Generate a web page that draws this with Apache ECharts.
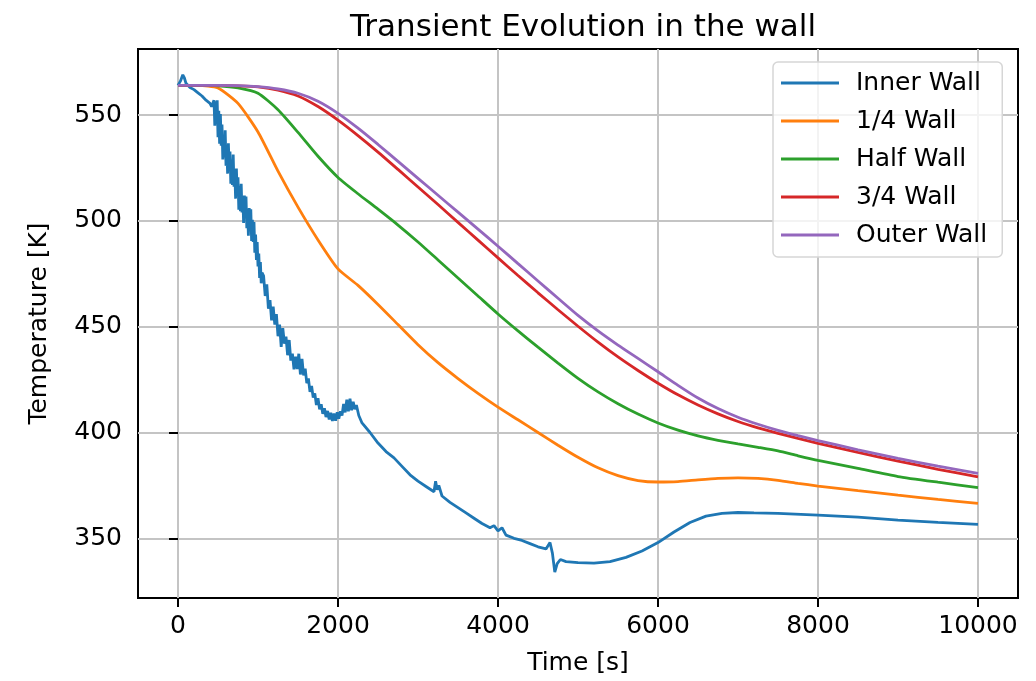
<!DOCTYPE html>
<html>
<head>
<meta charset="utf-8">
<script src="https://cdn.jsdelivr.net/npm/echarts@6/dist/echarts.min.js"></script>
<style>
  html, body { margin: 0; padding: 0; background: #fff; }
  #chart { width: 1036px; height: 681px; }
</style>
</head>
<body>
<div id="chart"></div>
<script>
// 刻度
const xTicks = [0, 2000, 4000, 6000, 8000, 10000];
const yTicks = [350, 400, 450, 500, 550];

// Inner Wall (noisy)
const innerT = [0, 30, 60, 80, 100, 150, 200, 250, 300, 350, 400, 420, 440,
  450, 460, 470, 480, 490, 500, 510, 520, 530, 540, 550, 560, 570, 580, 590, 600,
  610, 620, 630, 640, 650, 660, 670, 680, 690, 700, 710, 720, 730, 740, 750, 760,
  770, 780, 790, 800, 810, 820, 830, 840, 850, 860, 870, 880, 890, 900, 910, 920,
  930, 940, 950, 960, 970, 980, 990, 1000, 1010, 1020, 1030, 1040, 1050,
  1070, 1090, 1110, 1130, 1150, 1170, 1190, 1210, 1230, 1250, 1270, 1290, 1310, 1330,
  1350, 1370, 1390, 1410, 1430, 1450, 1470, 1490, 1510, 1530, 1550, 1570, 1590,
  1610, 1630, 1650, 1670, 1690, 1710, 1730, 1750, 1770, 1790, 1810, 1830, 1850, 1870,
  1890, 1910, 1930, 1950, 1970, 1990, 2010, 2030, 2050, 2070, 2090, 2110, 2130, 2150,
  2170, 2190, 2210, 2230, 2260, 2300, 2400, 2500, 2600, 2700, 2800, 2900, 3000, 3100, 3200,
  3220, 3240, 3260, 3300, 3400, 3500, 3600, 3700, 3800, 3900, 3950, 4000, 4050, 4100, 4200,
  4300, 4400, 4500, 4600, 4650, 4680, 4710, 4740, 4780, 4850, 5000, 5200, 5400, 5600, 5800,
  6000, 6200, 6400, 6600, 6800, 7000, 7200, 7500, 8000, 8500, 9000, 9500, 10000];
const innerV = [564, 566, 569, 567.5, 565, 563, 562, 560.5, 559, 557, 555.5, 554, 556,
  557, 545, 556.5, 547, 557, 539.5, 552, 536.5, 550.5, 535.5, 545.5, 529, 540.5, 530, 542.8, 526,
  535, 522.3, 536.6, 524.4, 532.7, 517.5, 529, 517, 531.3, 516.1, 523.3, 510.5, 524.7, 512.4, 520.6, 505.3,
  516.6, 504.5, 517.5, 504, 511.5, 499, 512, 501.5, 511.5, 496.5, 505.5, 493, 506, 495.5, 505.5, 490.5,
  500.5, 490, 499.5, 485, 493.5, 481.5, 490, 478.5, 484.5, 473, 480.5, 470.5, 475.5,
  474, 464.5, 470, 458.5, 462.5, 453, 459.5, 451, 456, 445.5, 451, 440.5, 449.3, 442,
  445.3, 436.5, 443.7, 434, 437.2, 429.8, 435.8, 430, 437.2, 427.4, 434.8, 427, 430.2,
  423.3, 425.5, 419.2, 422, 416.5, 418.5, 413, 416.2, 411, 413.3, 408.8, 411.5, 407.3, 410.2,
  406.2, 409.3, 405.5, 408.9, 405.6, 409.5, 406.5, 410, 408, 413.5, 409.5, 415.5, 410, 416,
  410.5, 414.5, 411, 413, 408, 404.5, 400, 395, 391, 388, 384, 380, 377, 374.5, 372,
  377, 373, 375, 370, 367, 364.5, 362, 359.5, 357, 355, 356, 353.5, 355, 351.5, 350,
  349, 347.5, 346, 345, 348, 343, 334, 338, 340, 339, 338.5, 338.3, 339, 341, 344,
  348, 353, 357.5, 360.5, 361.8, 362.2, 362, 361.8, 361, 360, 358.6, 357.5, 356.6];

// 时间轴 (smooth curves)
const smoothT = [0, 250, 500, 750, 1000, 1250, 1500, 1750, 2000, 2250, 2500, 2750, 3000, 3250, 3500, 3750,
  4000, 4250, 4500, 4750, 5000, 5250, 5500, 5750, 6000, 6250, 6500, 6750, 7000, 7250, 7500, 7750,
  8000, 8500, 9000, 9500, 10000];

// 1/4 Wall
const quarterV = [564, 564, 562.8, 555.5, 542, 523.5, 506.5, 491, 477.3, 469.5, 460.5, 451, 441.5, 433, 425.5, 418.5,
  412, 406, 400, 394, 388.3, 383.3, 379.6, 377.3, 376.6, 376.8, 377.6, 378.3, 378.6, 378.3, 377.4, 376,
  374.7, 372.5, 370.4, 368.4, 366.5];

// Half Wall
const halfV = [564, 564, 563.8, 562.8, 560.3, 552.5, 541.8, 530.5, 520.5, 512.8, 505.5, 498, 490, 481.5, 473, 464.5,
  456, 448, 440.3, 432.8, 425.6, 419.2, 413.6, 408.7, 404.5, 401.1, 398.4, 396.3, 394.6, 393, 391.3, 389,
  386.8, 383, 379.2, 376.5, 374];

// 3/4 Wall
const threeQV = [564, 564, 564, 563.8, 563.3, 561.8, 559, 554, 547.6, 540.3, 532.5, 524.3, 516, 507.7, 499.3, 490.9,
  482.5, 474.2, 466, 458, 450.2, 442.7, 435.7, 429.3, 423.3, 417.8, 413, 408.8, 405.2, 402.2, 399.6, 397.2,
  394.9, 390.6, 386.5, 382.6, 379];

// Outer Wall
const outerV = [564, 564, 564, 563.9, 563.4, 562.3, 560.3, 556.5, 550.8, 543.8, 536.1, 528.1, 520.1, 512.1, 504.1, 496.1,
  488, 479.8, 471.6, 463.4, 455.3, 448, 441.3, 435, 428.7, 422.3, 416.3, 411.3, 407.2, 403.9, 401, 398.5,
  396.2, 391.8, 387.8, 384.1, 380.7];

const seriesNames = ['Inner Wall', '1/4 Wall', 'Half Wall', '3/4 Wall', 'Outer Wall'];
const seriesColors = ['#1f77b4', '#ff7f0e', '#2ca02c', '#d62728', '#9467bd'];

function pairs(t, v) {
  return t.map(function (x, i) { return [x, v[i]]; });
}

(function () {
  let myChart = echarts.init(document.getElementById('chart'));
  const font = 'DejaVu Sans';
  const allData = [
    pairs(innerT, innerV),
    pairs(smoothT, quarterV),
    pairs(smoothT, halfV),
    pairs(smoothT, threeQV),
    pairs(smoothT, outerV),
  ];
  let option = {
    animation: false,
    title: {
      text: 'Transient Evolution in the wall',
      left: 578,
      textAlign: 'center',
      top: 7,
      textStyle: {fontFamily: font, fontSize: 31, fontWeight: 'normal', color: '#000'},
    },
    legend: {
      left: 773,
      top: 62,
      orient: 'vertical',
      icon: 'rect',
      itemWidth: 58,
      itemHeight: 3,
      itemGap: 12,
      padding: [8, 15, 9, 8],
      backgroundColor: 'rgba(255,255,255,0.8)',
      borderColor: '#d6d6d6',
      borderWidth: 1.5,
      borderRadius: 5,
      textStyle: {fontFamily: font, fontSize: 25, color: '#000', lineHeight: 26, padding: [0, 0, 0, 12]},
      data: seriesNames,
    },
    grid: {
      left: 138,
      right: 18,
      top: 49,
      bottom: 83,
      show: true,
      borderColor: '#000',
      borderWidth: 2,
      backgroundColor: 'transparent',
    },
    xAxis: {
      type: 'value',
      min: -500,
      max: 10500,
      name: 'Time [s]',
      nameLocation: 'middle',
      nameGap: 53,
      nameTextStyle: {fontFamily: font, fontSize: 25, color: '#000'},
      axisLine: {show: false},
      axisTick: {show: true, inside: false, length: 9, lineStyle: {color: '#000', width: 2}, customValues: xTicks},
      axisLabel: {
        fontFamily: font, fontSize: 25, color: '#000', margin: 16, customValues: xTicks,
        formatter: function (v) { return String(v); },
      },
      splitLine: {show: true, lineStyle: {color: '#c4c4c4', width: 2}},
    },
    yAxis: {
      type: 'value',
      min: 321.8,
      max: 581.2,
      name: 'Temperature [K]',
      nameLocation: 'middle',
      nameGap: 86,
      nameTextStyle: {fontFamily: font, fontSize: 25, color: '#000'},
      axisLine: {show: false},
      axisTick: {show: true, inside: false, length: 9, lineStyle: {color: '#000', width: 2}, customValues: yTicks},
      axisLabel: {
        fontFamily: font, fontSize: 25, color: '#000', margin: 16, customValues: yTicks,
        formatter: function (v) { return String(v); },
      },
      splitLine: {show: true, lineStyle: {color: '#c4c4c4', width: 2}},
    },
    series: seriesNames.map(function (name, i) {
      return {
        name: name,
        type: 'line',
        data: allData[i],
        showSymbol: false,
        smooth: i === 0 ? false : 0.2,
        color: seriesColors[i],
        lineStyle: {width: 2.8},
        z: 2 + i,
      };
    }),
  };
  myChart.setOption(option);
  window.addEventListener('resize', function () {
    myChart.resize();
  });
})();
</script>
</body>
</html>
